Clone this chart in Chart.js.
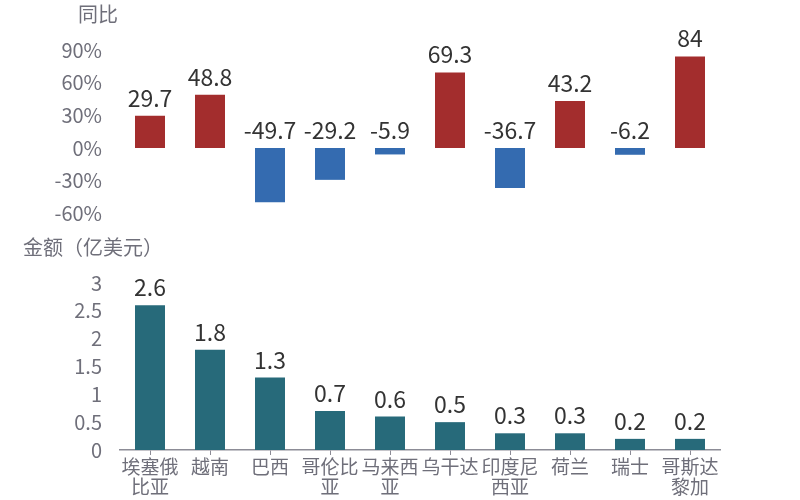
<!DOCTYPE html>
<html>
<head>
<meta charset="utf-8">
<script src="https://cdn.jsdelivr.net/npm/chart.js"></script>
<style>
  body { margin: 0; background: #fff; }
  #wrap { position: relative; width: 800px; height: 500px; overflow: hidden; }
  .ttl { position: absolute; font: 20px "Noto Sans CJK SC", sans-serif; color: #6f6f7a; line-height: 1; white-space: nowrap; }
  #top { position: absolute; left: 0; top: 0; }
  #bottom { position: absolute; left: 0; top: 230px; }
</style>
</head>
<body>
<div id="wrap">
  <canvas id="top" width="800" height="235"></canvas>
  <canvas id="bottom" width="800" height="270"></canvas>
  <div class="ttl" style="left:78px; top:4px;">同比</div>
  <div class="ttl" style="left:23px; top:237px;">金额（亿美元）</div>
</div>
<script>
// data
var countries = [["埃塞俄", "比亚"], "越南", "巴西", ["哥伦比", "亚"], ["马来西", "亚"], "乌干达", ["印度尼", "西亚"], "荷兰", "瑞士", ["哥斯达", "黎加"]];
var yoyValues = [29.7, 48.8, -49.7, -29.2, -5.9, 69.3, -36.7, 43.2, -6.2, 84];
var amountValues = [2.6, 1.8, 1.3, 0.7, 0.6, 0.5, 0.3, 0.3, 0.2, 0.2];
var yoyTicks = [-60, -30, 0, 30, 60, 90];
var amountTicks = [0, 0.5, 1, 1.5, 2, 2.5, 3];

var FONT = '"Noto Sans CJK SC", "Noto Sans", sans-serif';
var gray = '#6f6f7a';

// draws the value over each bar (negative ones sit above the zero line)
var valueLabels = {
  id: 'valueLabels',
  afterDatasetsDraw: function(chart) {
    var ctx = chart.ctx;
    var meta = chart.getDatasetMeta(0);
    var zero = chart.scales.y.getPixelForValue(0);
    var data = chart.data.datasets[0].data;
    ctx.save();
    ctx.font = '23px ' + FONT;
    ctx.fillStyle = '#333333';
    ctx.textAlign = 'center';
    ctx.textBaseline = 'alphabetic';
    meta.data.forEach(function(bar, i) {
      var top = Math.min(bar.y, zero);
      ctx.fillText(String(data[i]), bar.x, top - 9);
    });
    ctx.restore();
  }
};

// y axis: fixed width, and no extra room kept for half tick labels
function fixY(scale) {
  scale.width = 120;
  scale.paddingTop = 0;
  scale.paddingBottom = 0;
}

new Chart(document.getElementById('top'), {
  type: 'bar',
  data: {
    labels: countries,
    datasets: [{
      data: yoyValues,
      backgroundColor: yoyValues.map(function(v) { return v >= 0 ? '#a32d2d' : '#346bb0'; }),
      barPercentage: 0.5,
      categoryPercentage: 1
    }]
  },
  plugins: [valueLabels],
  options: {
    responsive: false,
    animation: false,
    layout: { padding: { left: 0, right: 80, top: 0, bottom: 0 } },
    plugins: { legend: { display: false }, tooltip: { enabled: false } },
    scales: {
      x: { display: false },
      y: {
        min: -79.8,
        max: 135.8,
        afterFit: fixY,
        afterBuildTicks: function(scale) { scale.ticks = yoyTicks.map(function(v) { return { value: v }; }); },
        grid: { display: false },
        border: { display: false },
        ticks: {
          padding: 10,
          color: gray,
          font: { size: 20, family: FONT },
          callback: function(v) { return v + '%'; }
        }
      }
    }
  }
});

new Chart(document.getElementById('bottom'), {
  type: 'bar',
  data: {
    labels: countries,
    datasets: [{
      data: amountValues,
      backgroundColor: '#276a7a',
      barPercentage: 0.5,
      categoryPercentage: 1
    }]
  },
  plugins: [valueLabels],
  options: {
    responsive: false,
    animation: false,
    layout: { padding: { left: 0, right: 80, top: 0, bottom: 0 } },
    plugins: { legend: { display: false }, tooltip: { enabled: false } },
    scales: {
      x: {
        afterFit: function(scale) { scale.height = 50; },
        grid: { display: true, drawOnChartArea: false, drawTicks: true, tickLength: 5, color: '#8c8c96', offset: false },
        border: { display: true, color: '#8c8c96', width: 1.5 },
        ticks: {
          padding: 2,
          color: gray,
          maxRotation: 0,
          autoSkip: false,
          font: { size: 19, family: FONT, lineHeight: 1.05 }
        }
      },
      y: {
        min: 0,
        max: 3.95,
        afterFit: fixY,
        afterBuildTicks: function(scale) { scale.ticks = amountTicks.map(function(v) { return { value: v }; }); },
        grid: { display: false },
        border: { display: false },
        ticks: {
          padding: 10,
          color: gray,
          font: { size: 20, family: FONT },
          callback: function(v) { return String(v); }
        }
      }
    }
  }
});
</script>
</body>
</html>
